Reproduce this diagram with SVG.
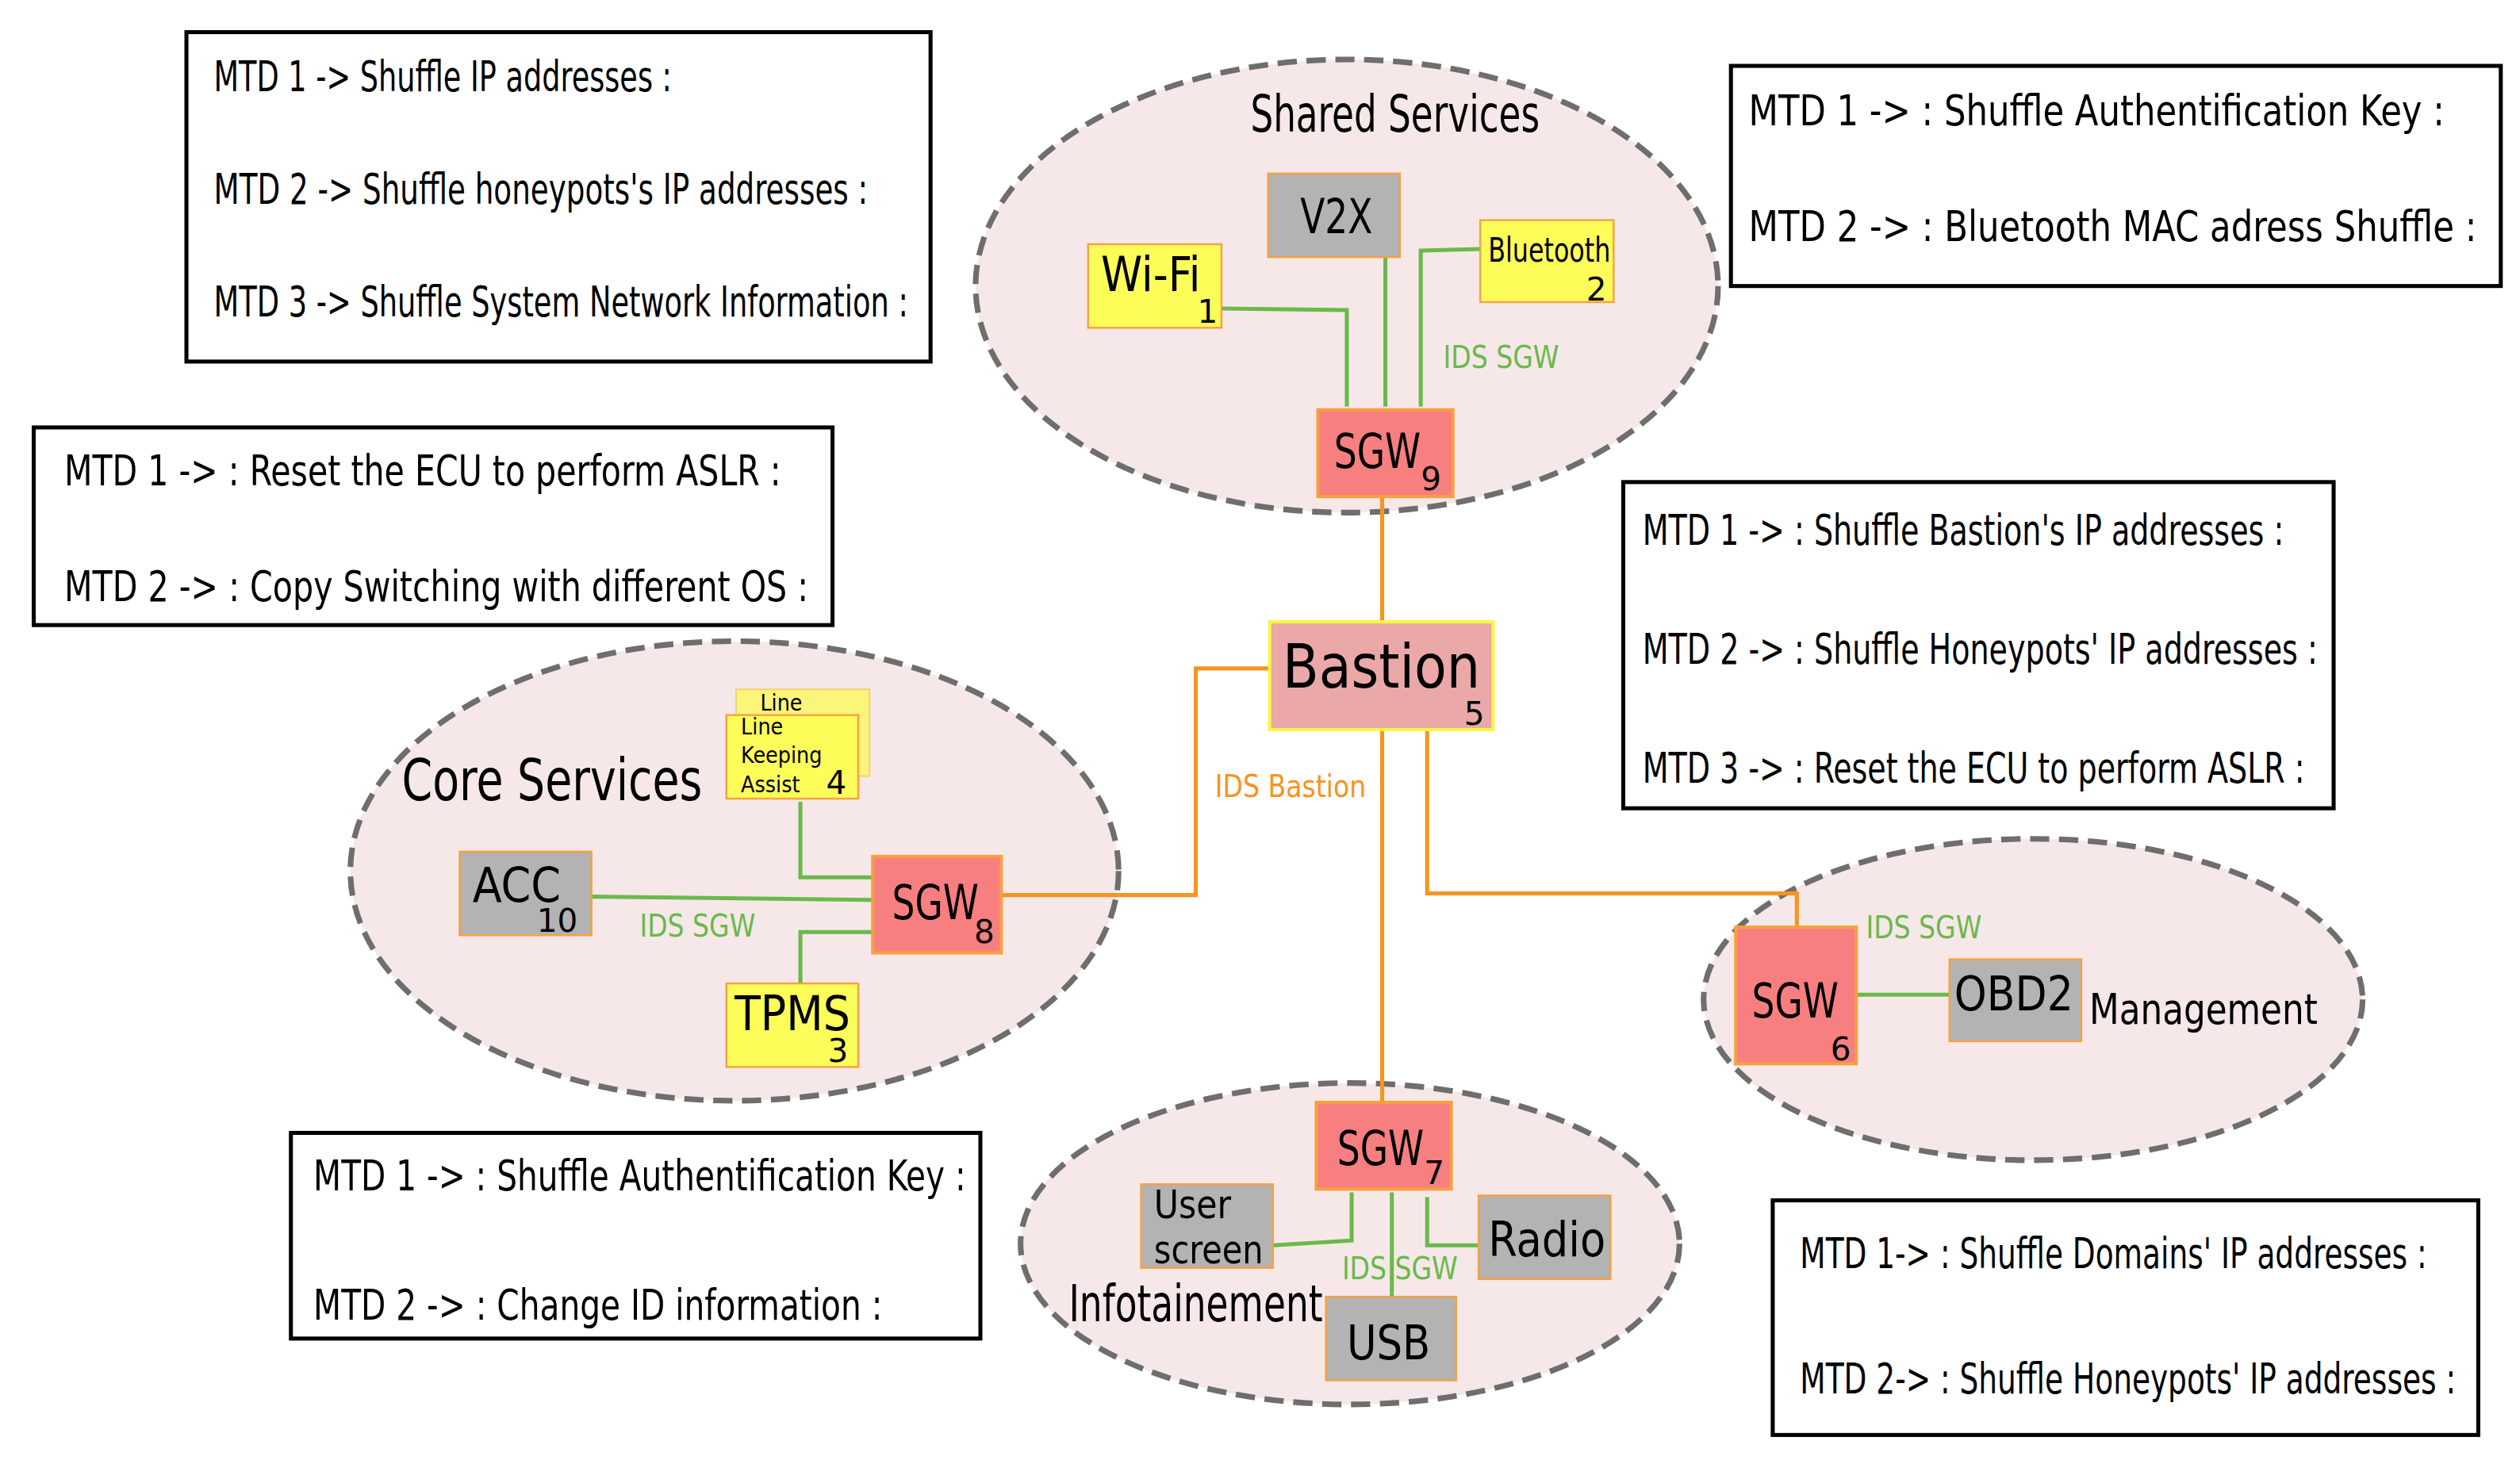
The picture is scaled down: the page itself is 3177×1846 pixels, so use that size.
<svg xmlns="http://www.w3.org/2000/svg" width="3177" height="1846" viewBox="0 0 3177 1846">
<style>
text{font-family:"DejaVu Sans Condensed","DejaVu Sans",sans-serif;font-stretch:condensed;fill:#000}
.box{fill:#fff;stroke:#000;stroke-width:2.5}
.bt{font-size:26px}
.ell{fill:#f6e8e8;stroke:#6e6e6e;stroke-width:3.5;stroke-dasharray:12 6}
.y{fill:#fdfd5a;stroke:#f7a040;stroke-width:1.2}
.g{fill:#b3b3b3;stroke:#f7a040;stroke-width:1.2}
.r{fill:#f77f7f;stroke:#f7a040;stroke-width:2}
.gl{fill:none;stroke:#6ab94c;stroke-width:2.5}
.ol{fill:none;stroke:#f7941d;stroke-width:2.5}
.gt{fill:#6ab94c;font-size:19px}
.ot{fill:#f7941d;font-size:19px}
.nl{font-size:30px}
.sub{font-size:20px;font-family:"DejaVu Sans",sans-serif;font-stretch:normal}
</style>
<rect width="3177" height="1846" fill="#fff"/>
<g transform="scale(2.0262)">
<g id="notes" xml:space="preserve">
<rect class="box" x="116" y="20" width="463" height="205"/>
<text class="bt" x="133" y="57" textLength="285" lengthAdjust="spacingAndGlyphs">MTD 1 -&gt; Shuffle IP addresses :</text>
<text class="bt" x="133" y="127" textLength="407" lengthAdjust="spacingAndGlyphs">MTD 2 -&gt;  Shuffle honeypots's IP addresses :</text>
<text class="bt" x="133" y="197" textLength="432" lengthAdjust="spacingAndGlyphs">MTD 3 -&gt; Shuffle System Network Information :</text>
<rect class="box" x="21" y="266" width="497" height="123"/>
<text class="bt" x="40" y="302" textLength="446" lengthAdjust="spacingAndGlyphs">MTD 1 -&gt;  : Reset the ECU to perform ASLR :</text>
<text class="bt" x="40" y="374" textLength="463" lengthAdjust="spacingAndGlyphs">MTD 2 -&gt;  : Copy Switching with different OS :</text>
<rect class="box" x="1077" y="41" width="479" height="137"/>
<text class="bt" x="1088" y="78" textLength="433" lengthAdjust="spacingAndGlyphs">MTD 1 -&gt;  : Shuffle Authentification Key :</text>
<text class="bt" x="1088" y="150" textLength="453" lengthAdjust="spacingAndGlyphs">MTD 2 -&gt;  : Bluetooth MAC adress Shuffle :</text>
<rect class="box" x="1010" y="300" width="442" height="203"/>
<text class="bt" x="1022" y="339" textLength="399" lengthAdjust="spacingAndGlyphs">MTD 1 -&gt;  : Shuffle Bastion's IP addresses :</text>
<text class="bt" x="1022" y="413" textLength="420" lengthAdjust="spacingAndGlyphs">MTD 2 -&gt;  : Shuffle Honeypots' IP addresses :</text>
<text class="bt" x="1022" y="487" textLength="412" lengthAdjust="spacingAndGlyphs">MTD 3 -&gt;  : Reset the ECU to perform ASLR :</text>
<rect class="box" x="181" y="705" width="429" height="128"/>
<text class="bt" x="195" y="741" textLength="406" lengthAdjust="spacingAndGlyphs">MTD 1 -&gt;  : Shuffle Authentification Key :</text>
<text class="bt" x="195" y="821" textLength="354" lengthAdjust="spacingAndGlyphs">MTD 2 -&gt;  : Change ID information :</text>
<rect class="box" x="1103" y="747" width="439" height="146"/>
<text class="bt" x="1120" y="789" textLength="390" lengthAdjust="spacingAndGlyphs">MTD 1-&gt;  : Shuffle Domains' IP addresses :</text>
<text class="bt" x="1120" y="867" textLength="408" lengthAdjust="spacingAndGlyphs">MTD 2-&gt;  : Shuffle Honeypots' IP addresses :</text>
</g>
<g id="domains">
<ellipse class="ell" cx="838" cy="178" rx="231" ry="141"/>
<text x="778" y="82" font-size="32" textLength="180" lengthAdjust="spacingAndGlyphs">Shared Services</text>
<ellipse class="ell" cx="457" cy="542" rx="239" ry="143"/>
<text x="250" y="498" font-size="36" textLength="187" lengthAdjust="spacingAndGlyphs">Core Services</text>
<ellipse class="ell" cx="1265" cy="622" rx="205" ry="100"/>
<text x="1300" y="637" font-size="26" textLength="142" lengthAdjust="spacingAndGlyphs">Management</text>
<ellipse class="ell" cx="840" cy="774" rx="205" ry="100"/>
<text x="665" y="822" font-size="32" textLength="158" lengthAdjust="spacingAndGlyphs">Infotainement</text>
</g>
<g id="connectors">
<polyline class="gl" points="760,192 838,193 838,253"/>
<polyline class="gl" points="862,160 862,253"/>
<polyline class="gl" points="921,155 884,156 884,253"/>
<polyline class="gl" points="498,499 498,546 543,546"/>
<polyline class="gl" points="368,558 543,560"/>
<polyline class="gl" points="498,612 498,580 543,580"/>
<polyline class="gl" points="1155,619 1213,619"/>
<polyline class="gl" points="792,775 841,772 841,742"/>
<polyline class="gl" points="866,742 866,807"/>
<polyline class="gl" points="920,775 888,775 888,745"/>
<polyline class="ol" points="860,309 860,387"/>
<polyline class="ol" points="860,454 860,686"/>
<polyline class="ol" points="790,416 744,416 744,557 623,557"/>
<polyline class="ol" points="888,454 888,556 1118,556 1118,577"/>
<text class="gt" x="898" y="229" textLength="72" lengthAdjust="spacingAndGlyphs">IDS SGW</text>
<text class="gt" x="398" y="583" textLength="72" lengthAdjust="spacingAndGlyphs">IDS SGW</text>
<text class="gt" x="1161" y="584" textLength="72" lengthAdjust="spacingAndGlyphs">IDS SGW</text>
<text class="gt" x="835" y="796" textLength="72" lengthAdjust="spacingAndGlyphs">IDS SGW</text>
<text class="ot" x="756" y="496" textLength="94" lengthAdjust="spacingAndGlyphs">IDS Bastion</text>
</g>
<g id="wifi"><rect class="y" x="677" y="152" width="83" height="52"/><text class="nl" x="685" y="181" textLength="62" lengthAdjust="spacingAndGlyphs">Wi-Fi</text><text class="sub" x="745" y="201">1</text></g>
<g id="v2x"><rect class="g" x="789" y="108" width="82" height="52"/><text class="nl" x="809" y="145" textLength="45" lengthAdjust="spacingAndGlyphs">V2X</text></g>
<g id="bluetooth"><rect class="y" x="921" y="137" width="83" height="51"/><text x="926" y="163" font-size="21" textLength="76" lengthAdjust="spacingAndGlyphs">Bluetooth</text><text class="sub" x="987" y="187">2</text></g>
<g id="sgw9"><rect class="r" x="820" y="255" width="84" height="54"/><text class="nl" x="830" y="291" textLength="54" lengthAdjust="spacingAndGlyphs">SGW</text><text class="sub" x="884" y="305">9</text></g>
<g id="bastion"><rect x="790" y="387" width="139" height="67" fill="#eaa8a8" stroke="#f7f740" stroke-width="2"/><text x="798" y="428" font-size="38" textLength="123" lengthAdjust="spacingAndGlyphs">Bastion</text><text class="sub" x="911" y="451">5</text></g>
<g id="lka">
<rect x="458" y="429" width="83" height="54" fill="#fbf57a" stroke="#f7d070" stroke-width="1"/>
<text x="473" y="442" font-size="14" fill="#a8a848">Line</text>
<rect class="y" x="452" y="445" width="82" height="52"/>
<text x="461" y="457" font-size="14">Line</text><text x="461" y="475" font-size="14">Keeping</text><text x="461" y="493" font-size="14">Assist</text><text class="sub" x="514" y="494">4</text></g>
<g id="acc"><rect class="g" x="286" y="530" width="82" height="52"/><text class="nl" x="294" y="561" textLength="55" lengthAdjust="spacingAndGlyphs">ACC</text><text class="sub" x="334" y="580">10</text></g>
<g id="sgw8"><rect class="r" x="543" y="533" width="80" height="60"/><text class="nl" x="555" y="572" textLength="54" lengthAdjust="spacingAndGlyphs">SGW</text><text class="sub" x="606" y="587">8</text></g>
<g id="tpms"><rect class="y" x="452" y="612" width="82" height="52"/><text class="nl" x="457" y="641" textLength="72" lengthAdjust="spacingAndGlyphs">TPMS</text><text class="sub" x="515" y="661">3</text></g>
<g id="sgw6"><rect class="r" x="1080" y="577" width="75" height="85"/><text class="nl" x="1090" y="633" textLength="54" lengthAdjust="spacingAndGlyphs">SGW</text><text class="sub" x="1139" y="660">6</text></g>
<g id="obd2"><rect class="g" x="1213" y="597" width="82" height="51"/><text class="nl" x="1216" y="629" textLength="74" lengthAdjust="spacingAndGlyphs">OBD2</text></g>
<g id="sgw7"><rect class="r" x="819" y="686" width="84" height="54"/><text class="nl" x="832" y="725" textLength="54" lengthAdjust="spacingAndGlyphs">SGW</text><text class="sub" x="886" y="737">7</text></g>
<g id="userscreen"><rect class="g" x="710" y="737" width="82" height="52"/><text x="718" y="758" font-size="25" textLength="48" lengthAdjust="spacingAndGlyphs">User</text><text x="718" y="786" font-size="25" textLength="68" lengthAdjust="spacingAndGlyphs">screen</text></g>
<g id="radio"><rect class="g" x="920" y="744" width="82" height="52"/><text class="nl" x="926" y="782" textLength="73" lengthAdjust="spacingAndGlyphs">Radio</text></g>
<g id="usb"><rect class="g" x="825" y="807" width="81" height="52"/><text class="nl" x="838" y="846" textLength="52" lengthAdjust="spacingAndGlyphs">USB</text></g>
</g>
</svg>
